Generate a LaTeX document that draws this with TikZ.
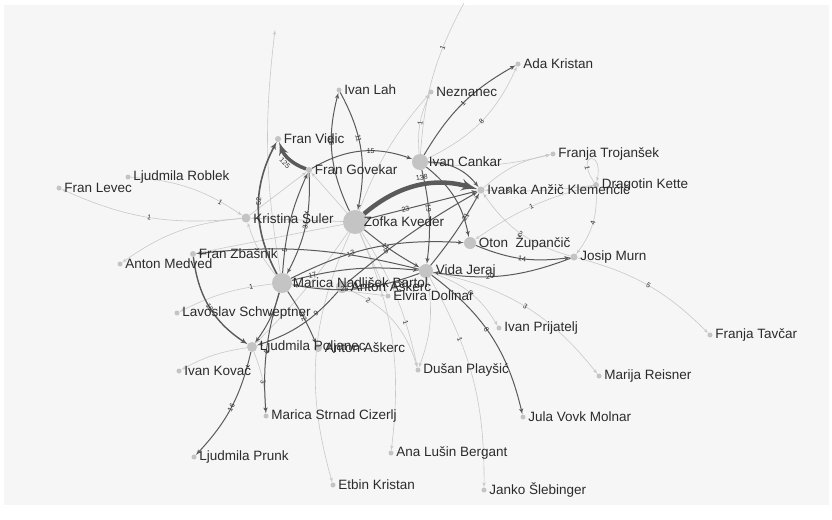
\documentclass[tikz,border=0pt]{standalone}
\usepackage{fontspec}
\setmainfont{Liberation Sans}
\usetikzlibrary{arrows}
\usetikzlibrary{positioning}
\definecolor{paper}{HTML}{F6F6F6}
\definecolor{dot}{HTML}{C4C4C4}
\definecolor{ink}{HTML}{2B2B2B}
\definecolor{edgedark}{HTML}{5A5A5A}
\definecolor{edgelight}{HTML}{C8C8C8}
\tikzset{person/.style = {fill=dot, circle, inner sep = 0, minimum size = #1}}
\tikzset{who/.style = {anchor=west, inner sep=0, xshift=2.5pt, text=ink,
                       font=\fontsize{13.5}{14}\selectfont}}
\tikzset{wt/.style = {sloped, inner sep=0.8pt, text=ink, font=\fontsize{7}{7}\selectfont}}
\tikzset{faint/.style = {draw=edgelight, line width=0.6pt, -latex'}}
\tikzset{dark/.style = {draw=edgedark, line width=1pt, -latex'}}
\tikzset{heavy/.style = {draw=edgedark, line width=#1, -latex'}}
\tikzset{bl/.style = {bend left=#1}, br/.style = {bend right=#1}}

\begin{document}
\begin{tikzpicture}[x=1pt, y=-1pt]
  \useasboundingbox (0, 0) rectangle (832, 519);
  \fill [paper] (4, 5) rectangle (829, 505);

  % people
  \node [person=24] (zofka) at (355, 222) {};
  \node [person=16] (cankar) at (420, 162) {};
  \node [person=20] (marica) at (282, 283) {};
  \node [person=14] (vida) at (426, 271) {};
  \node [person=12] (oton) at (470, 243) {};
  \node [person=12] (askerca) at (342, 287) {};
  \node [person=10] (poljanec) at (252, 347) {};
  \node [person=9] (kristina) at (246, 218) {};
  \node [person=8] (askercb) at (318, 348) {};
  \node [person=7] (ivanka) at (481, 190) {};
  \node [person=7] (murn) at (574, 257) {};
  \node [person=6] (kette) at (596, 185) {};
  \node [person=6] (zbasnik) at (193, 254) {};
  \node [person=6] (govekar) at (309, 170) {};
  \node [person=6] (vidic) at (278, 139) {};
  \node [person=5] (elvira) at (388, 296) {};
  \node [person=5] (trojansek) at (553, 154) {};
  \node [person=5] (ada) at (518, 64) {};
  \node [person=5] (neznanec) at (431, 92) {};
  \node [person=5] (ivanlah) at (339, 90) {};
  \node [person=5] (roblek) at (128, 177) {};
  \node [person=5] (levec) at (59, 188) {};
  \node [person=5] (medved) at (120, 264) {};
  \node [person=5] (schweptner) at (177, 313) {};
  \node [person=5] (kovac) at (179, 371) {};
  \node [person=5] (strnad) at (266, 416) {};
  \node [person=5] (prunk) at (194, 457) {};
  \node [person=5] (etbin) at (333, 485) {};
  \node [person=5] (bergant) at (391, 453) {};
  \node [person=5] (slebinger) at (484, 490) {};
  \node [person=5] (playsic) at (418, 370) {};
  \node [person=5] (jula) at (523, 417) {};
  \node [person=5] (prijatelj) at (499, 328) {};
  \node [person=5] (reisner) at (599, 376) {};
  \node [person=5] (tavcar) at (710, 335) {};
  \coordinate (topv) at (275, 30);
  \coordinate (topc) at (464, 3);

  % faint links
  \draw [faint, -] (cankar) to [bl=12] node [wt, pos=0.7] {1} (topc);
  \draw [faint] (marica) to [bl=8] (topv);
  \draw [faint] (cankar) to [bl=15] node [wt] {1} (neznanec);
  \draw [faint] (zofka) to [bl=10] (neznanec);
  \draw [faint] (cankar) to [br=20] node [wt] {8} (ada);
  \draw [faint] (cankar) to [br=10] (trojansek);
  \draw [faint] (ivanka) to [bl=15] (trojansek);
  \draw [faint] (kette) .. controls +(-22, -32) and +(8, -36) .. node [wt, pos=0.2] {1} (kette);
  \draw [faint] (kette) to [bl=20] node [wt] {4} (murn);
  \draw [faint] (kette) to [br=10] node [wt] {1} (oton);
  \draw [faint] (kette) to [bl=5] node [wt, pos=0.8] {8} (ivanka);
  \draw [faint] (murn) to [bl=20] node [wt] {2} (ivanka);
  \draw [faint] (vida) to [bl=20] node [wt] {8} (prijatelj);
  \draw [faint] (vida) to [bl=20] node [wt] {3} (reisner);
  \draw [faint] (murn) to [bl=15] node [wt] {5} (tavcar);
  \draw [faint] (zofka) to [br=20] (etbin);
  \draw [faint] (zofka) to [bl=15] (bergant);
  \draw [faint] (vida) to [bl=15] node [wt, pos=0.3] {1} (slebinger);
  \draw [faint] (zofka) to [bl=10] node [wt, pos=0.7] {1} (playsic);
  \draw [faint] (askerca) to [bl=25] node [wt, pos=0.2] {2} (playsic);
  \draw [faint] (vida) to [bl=15] (playsic);
  \draw [faint] (kristina) to [bl=15] node [wt] {1} (levec);
  \draw [faint] (roblek) to [bl=15] node [wt, pos=0.8] {1} (kristina);
  \draw [faint] (kristina) to [br=15] (medved);
  \draw [faint] (marica) to [br=10] node [wt, pos=0.2] {1} (schweptner);
  \draw [faint] (poljanec) to [br=10] (kovac);
  \draw [faint] (poljanec) to [bl=10] node [wt] {3} (strnad);
  \draw [faint] (zofka) to (kristina);
  \draw [faint] (zofka) to (govekar);
  \draw [faint] (zofka) to (elvira);
  \draw [faint] (zofka) to (zbasnik);
  \draw [faint] (zofka) to [bl=5] (poljanec);
  \draw [faint] (kristina) to (govekar);
  \draw [faint] (marica) to (elvira);
  \draw [faint] (marica) to [bl=10] (kristina);

  % dark links
  \draw [dark] (zofka) to [bl=20] node [wt, pos=0.6] {18} (ivanlah);
  \draw [dark] (ivanlah) to [bl=20] node [wt, pos=0.4] {11} (zofka);
  \draw [dark] (cankar) to [bl=15] node [wt] {1} (ada);
  \draw [dark] (cankar) to [bl=25] (ivanka);
  \draw [dark] (cankar) to [bl=20] (oton);
  \draw [dark] (cankar) to [bl=10] node [wt, pos=0.4] {19} (vida);
  \draw [dark] (vida) to [br=5] node [wt, pos=0.7] {21} (ivanka);
  \draw [dark] (askerca) to [bl=5] node [wt, pos=0.3] {5} (ivanka);
  \draw [dark] (zofka) to node [wt, pos=0.35] {23} (ivanka);
  \draw [dark] (marica) to [bl=15] node [wt, pos=0.35] {13} (oton);
  \draw [dark] (marica) to [bl=10] node [wt, pos=0.15] {17} (vida);
  \draw [dark] (vida) to [bl=15] node [wt, pos=0.6] {25} (marica);
  \draw [dark] (zofka) to [br=5] node [wt, pos=0.4] {11} (vida);
  \draw [dark] (vida) to [br=10] (zbasnik);
  \draw [dark] (oton) to [br=15] node [wt] {14} (murn);
  \draw [dark] (murn) to [bl=15] node [wt, pos=0.6] {20} (vida);
  \draw [dark] (vida) to [bl=20] node [wt, pos=0.45] {8} (jula);
  \draw [dark, line width=1.4pt] (zbasnik) to [br=25] node [wt] {16} (poljanec);
  \draw [dark] (poljanec) to [bl=15] node [wt] {16} (prunk);
  \draw [dark] (marica) to [br=10] node [wt] {4} (strnad);
  \draw [dark] (marica) to [bl=5] node [wt] {12} (askercb);
  \draw [dark] (askerca) to [bl=15] node [wt, pos=0.3] {9} (poljanec);
  \draw [dark] (marica) to [bl=10] node [wt, pos=0.4] {1} (poljanec);
  \draw [dark, line width=1.6pt] (marica) to [bl=28] node [wt, pos=0.55] {52} (vidic);
  \draw [dark] (marica) to [bl=10] node [wt, pos=0.2] {5} (govekar);
  \draw [dark] (govekar) to [bl=15] node [wt] {31} (marica);
  \draw [dark] (govekar) to [bl=25] node [wt, pos=0.6] {15} (cankar);

  % heavy links
  \draw [heavy=4.5pt] (zofka) to [bl=28] node [wt, pos=0.55, above=2pt] {138} (ivanka);
  \draw [heavy=3.5pt] (govekar) to [bl=25] node [wt, below=1pt] {125} (vidic);

  % names
  \node [who, xshift=-6pt] (zofka-t) at (zofka.east) {Zofka Kveder};
  \node [who, xshift=-2pt] (cankar-t) at (cankar.east) {Ivan Cankar};
  \node [who, xshift=-2pt] (marica-t) at (marica.east) {Marica Nadlišek Bartol};
  \node [who] (vida-t) at (vida.east) {Vida Jeraj};
  \node [who] (oton-t) at (oton.east) {Oton\ \ Župančič};
  \node [who] (askerca-t) at (askerca.east) {Anton Aškerc};
  \node [who] (poljanec-t) at (poljanec.east) {Ljudmila Poljanec};
  \node [who] (kristina-t) at (kristina.east) {Kristina Šuler};
  \node [who] (askercb-t) at (askercb.east) {Anton Aškerc};
  \node [who] (ivanka-t) at (ivanka.east) {Ivanka Anžič Klemenčič};
  \node [who] (murn-t) at (murn.east) {Josip Murn};
  \node [who] (kette-t) at (kette.east) {Dragotin Kette};
  \node [who] (zbasnik-t) at (zbasnik.east) {Fran Zbašnik};
  \node [who] (govekar-t) at (govekar.east) {Fran Govekar};
  \node [who] (vidic-t) at (vidic.east) {Fran Vidic};
  \node [who] (elvira-t) at (elvira.east) {Elvira Dolinar};
  \node [who] (trojansek-t) at (trojansek.east) {Franja Trojanšek};
  \node [who] (ada-t) at (ada.east) {Ada Kristan};
  \node [who] (neznanec-t) at (neznanec.east) {Neznanec};
  \node [who] (ivanlah-t) at (ivanlah.east) {Ivan Lah};
  \node [who] (roblek-t) at (roblek.east) {Ljudmila Roblek};
  \node [who] (levec-t) at (levec.east) {Fran Levec};
  \node [who] (medved-t) at (medved.east) {Anton Medved};
  \node [who] (schweptner-t) at (schweptner.east) {Lavoslav Schweptner};
  \node [who] (kovac-t) at (kovac.east) {Ivan Kovač};
  \node [who] (strnad-t) at (strnad.east) {Marica Strnad Cizerlj};
  \node [who] (prunk-t) at (prunk.east) {Ljudmila Prunk};
  \node [who] (etbin-t) at (etbin.east) {Etbin Kristan};
  \node [who] (bergant-t) at (bergant.east) {Ana Lušin Bergant};
  \node [who] (slebinger-t) at (slebinger.east) {Janko Šlebinger};
  \node [who] (playsic-t) at (playsic.east) {Dušan Playšić};
  \node [who] (jula-t) at (jula.east) {Jula Vovk Molnar};
  \node [who] (prijatelj-t) at (prijatelj.east) {Ivan Prijatelj};
  \node [who] (reisner-t) at (reisner.east) {Marija Reisner};
  \node [who] (tavcar-t) at (tavcar.east) {Franja Tavčar};
\end{tikzpicture}
\end{document}
